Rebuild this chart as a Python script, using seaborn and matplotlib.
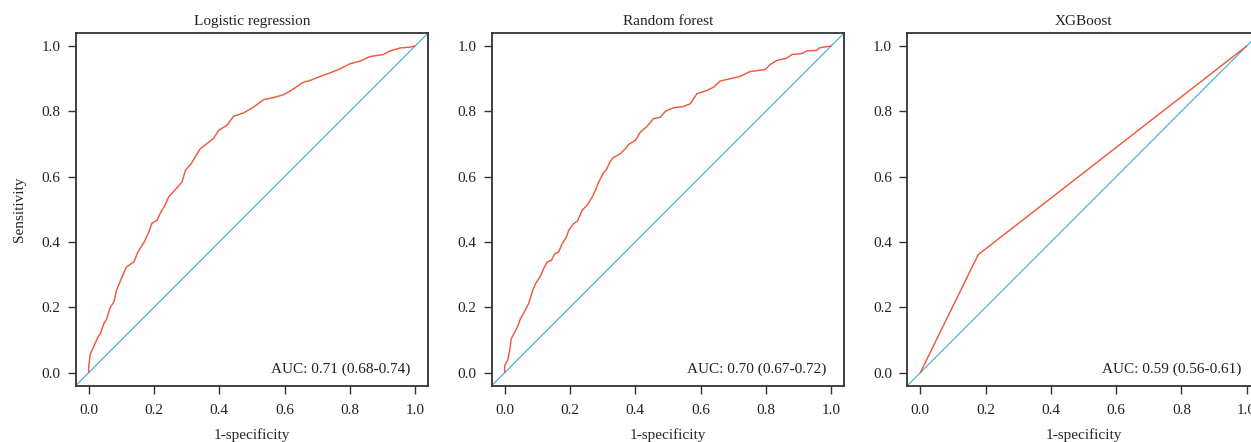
import numpy as np
import pandas as pd
import matplotlib
matplotlib.use("Agg")
import matplotlib.pyplot as plt
import seaborn as sns

# ROC curve points (1-specificity, sensitivity)
lr_fpr = [0.0, 0.0, 0.005, 0.015, 0.028, 0.036, 0.046, 0.054, 0.066, 0.077, 0.085, 0.102,
          0.115, 0.138, 0.151, 0.170, 0.184, 0.194, 0.209, 0.221, 0.232, 0.245, 0.265,
          0.286, 0.296, 0.314, 0.327, 0.342, 0.362, 0.383, 0.398, 0.423, 0.444, 0.474,
          0.505, 0.536, 0.566, 0.597, 0.628, 0.653, 0.679, 0.709, 0.740, 0.770, 0.801,
          0.832, 0.862, 0.903, 0.923, 0.954, 0.985, 1.0]
lr_tpr = [0.0, 0.020, 0.058, 0.079, 0.109, 0.120, 0.150, 0.162, 0.200, 0.216, 0.252, 0.293,
          0.323, 0.339, 0.370, 0.400, 0.430, 0.458, 0.466, 0.492, 0.509, 0.538, 0.560,
          0.584, 0.619, 0.640, 0.662, 0.686, 0.701, 0.718, 0.742, 0.757, 0.785, 0.795,
          0.813, 0.836, 0.842, 0.851, 0.869, 0.887, 0.895, 0.907, 0.918, 0.930, 0.946,
          0.954, 0.968, 0.974, 0.985, 0.994, 0.997, 1.0]

rf_fpr = [0.0, 0.0, 0.009, 0.015, 0.020, 0.031, 0.041, 0.048, 0.060, 0.073, 0.084, 0.094,
          0.109, 0.119, 0.130, 0.143, 0.153, 0.165, 0.176, 0.189, 0.196, 0.211, 0.223,
          0.237, 0.252, 0.267, 0.278, 0.288, 0.301, 0.313, 0.322, 0.332, 0.354, 0.370,
          0.380, 0.400, 0.416, 0.436, 0.456, 0.477, 0.492, 0.517, 0.548, 0.568, 0.589,
          0.619, 0.640, 0.660, 0.691, 0.721, 0.752, 0.798, 0.813, 0.834, 0.864, 0.880,
          0.910, 0.926, 0.956, 0.966, 1.0]
rf_tpr = [0.0, 0.022, 0.038, 0.068, 0.104, 0.124, 0.145, 0.165, 0.186, 0.211, 0.247, 0.272,
          0.295, 0.318, 0.339, 0.344, 0.364, 0.369, 0.395, 0.415, 0.436, 0.456, 0.464,
          0.497, 0.512, 0.536, 0.558, 0.584, 0.609, 0.624, 0.645, 0.658, 0.670, 0.686,
          0.699, 0.711, 0.737, 0.754, 0.778, 0.782, 0.800, 0.811, 0.815, 0.823, 0.854,
          0.864, 0.874, 0.893, 0.900, 0.907, 0.922, 0.928, 0.943, 0.956, 0.963, 0.974,
          0.977, 0.985, 0.987, 0.995, 1.0]

xgb_fpr = [0.0, 0.177, 1.0]
xgb_tpr = [0.0, 0.361, 1.0]

titles = ["Logistic regression", "Random forest", "XGBoost"]
auc_labels = ["AUC: 0.71 (0.68-0.74)", "AUC: 0.70 (0.67-0.72)", "AUC: 0.59 (0.56-0.61)"]
ticks = [0.0, 0.2, 0.4, 0.6, 0.8, 1.0]
tick_labels = ["0.0", "0.2", "0.4", "0.6", "0.8", "1.0"]

ROC_COLOR = "#EF5A3E"
DIAG_COLOR = "#4AB4E1"
SPINE_COLOR = "#333333"
FS = 11

sns.set_theme(style="ticks")
plt.rcParams["font.family"] = ["Liberation Serif", "DejaVu Serif"]
plt.rcParams["text.color"] = "#222222"

W, H = 1251, 442
fig = plt.figure(figsize=(W / 100, H / 100), dpi=100)

# panels placed in pixels; the third one runs past the right edge like the reference
panel_left_px = [75.7, 491.7, 907.3]
ax_w_px, ax_h_px = 352.4, 352.7
ax_top_px = 33.0

curves = [(lr_fpr, lr_tpr), (rf_fpr, rf_tpr), (xgb_fpr, xgb_tpr)]

for i, (fpr, tpr) in enumerate(curves):
    ax = fig.add_axes([panel_left_px[i] / W, (H - ax_top_px - ax_h_px) / H,
                       ax_w_px / W, ax_h_px / H])
    df = pd.DataFrame({"fpr": fpr, "tpr": tpr})
    ax.axline((0, 0), (1, 1), color=DIAG_COLOR, lw=0.9, zorder=1)
    sns.lineplot(data=df, x="fpr", y="tpr", ax=ax, color=ROC_COLOR, lw=1.05,
                 sort=False, estimator=None, zorder=2)
    ax.set_xlim(-0.04, 1.04)
    ax.set_ylim(-0.04, 1.04)
    ax.set_xticks(ticks)
    ax.set_xticklabels(tick_labels)
    ax.set_yticks(ticks)
    ax.set_yticklabels(tick_labels)
    ax.tick_params(direction="out", length=6, width=1.0, color=SPINE_COLOR,
                   labelsize=FS, pad=5, labelcolor="#222222")
    ax.tick_params(axis="x", pad=7)
    for sp in ax.spines.values():
        sp.set_color(SPINE_COLOR)
        sp.set_linewidth(1.3)
        sp.set_visible(True)
    ax.set_title(titles[i], fontsize=FS, pad=6)
    ax.set_xlabel("1-specificity", fontsize=FS, labelpad=8)
    if i == 0:
        ax.set_ylabel("Sensitivity", fontsize=FS, labelpad=11)
    else:
        ax.set_ylabel("")
    ax.text(0.985, 0.01, auc_labels[i], ha="right", va="center", fontsize=FS)

fig.savefig("out.png", dpi=100)
